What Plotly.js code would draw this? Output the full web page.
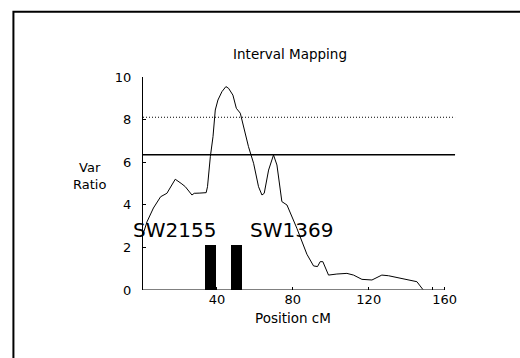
<!DOCTYPE html>
<html>
<head>
<meta charset="utf-8">
<script src="https://cdn.plot.ly/plotly-3.0.1.min.js"></script>
<style>html,body{margin:0;padding:0;background:#fff;}#chart{width:520px;height:358px;}</style>
</head>
<body>
<div id="chart"></div>
<script>
// Interval mapping curve (Position cM vs Var Ratio)
const positionCM = [1.5, 3.1, 6.5, 10.3, 13.6, 16, 18, 21.5, 23.3, 26.8, 28, 31, 34.3, 35, 36.5, 37.9, 39.1, 40.5, 42.6, 44.7, 46.1, 48.4, 50.2, 52.3, 54, 56.6, 59.3, 61.9, 63.7, 64.9, 67.2, 69.8, 71.6, 73.3, 74.2, 76.9, 82.1, 87.4, 90.9, 93, 94.4, 95.8, 97, 98.8, 103.2, 108.5, 112, 116.4, 121.7, 124.3, 126.9, 130.4, 134.8, 140.9, 145.4, 147.1, 148.5];
const varRatio   = [2.75, 3.2, 3.85, 4.38, 4.54, 4.9, 5.2, 4.98, 4.85, 4.46, 4.54, 4.55, 4.57, 4.85, 6.26, 7.2, 8.45, 8.92, 9.31, 9.55, 9.47, 9.15, 8.53, 8.3, 7.67, 6.73, 5.95, 4.85, 4.46, 4.54, 5.63, 6.34, 5.87, 4.85, 4.15, 3.99, 2.9, 1.68, 1.13, 1.1, 1.33, 1.33, 1.1, 0.7, 0.75, 0.78, 0.7, 0.5, 0.47, 0.6, 0.7, 0.67, 0.58, 0.47, 0.39, 0.19, 0.03];

// Marker bars
const markerPos    = [36.7, 50.35];
const markerHeight = [2.11, 2.11];
const markerWidth  = 5.8;

// Marker labels
const markerNames   = ["SW2155", "SW1369"];
const markerLabelX  = [17.5, 79.4];
const markerLabelY  = [2.82, 2.82];

// Threshold lines
const thresholdSolid  = 6.35;
const thresholdDotted = 8.11;
const thresholdEnd    = 165.5;

// Axis ticks
const xTickVals = [40, 80, 120, 153.6, 160];
const xTickText = ["40", "80", "120", "", "160"];
const yTickVals = [0, 2, 4, 6, 8, 10];
const xAxisEnd  = 160;

const FONT = "DejaVu Sans";

const traces = [
  {
    type: "bar",
    x: markerPos,
    y: markerHeight,
    width: markerWidth,
    marker: {color: "#000", line: {width: 0}},
    hoverinfo: "skip",
    showlegend: false
  },
  {
    type: "scatter",
    mode: "lines",
    x: positionCM,
    y: varRatio,
    line: {color: "#000", width: 1},
    showlegend: false
  }
];

const annotations = markerNames.map((t, i) => ({
  text: t, x: markerLabelX[i], y: markerLabelY[i], xref: "x", yref: "y",
  showarrow: false, xanchor: "center", yanchor: "middle",
  font: {family: FONT, size: 20, color: "#000"}
}));
annotations.push({
  text: "Position cM", x: 80.2, xref: "x", y: -0.13, yref: "paper",
  showarrow: false, xanchor: "center", yanchor: "middle",
  font: {family: FONT, size: 13.5, color: "#000"}
});
annotations.push({
  text: "Var<br>Ratio", x: -0.172, xref: "paper", y: 0.535, yref: "paper",
  showarrow: false, xanchor: "center", yanchor: "middle", align: "center",
  font: {family: FONT, size: 13, color: "#000"}
});

const layout = {
  width: 520, height: 358,
  margin: {l: 142.7, r: 64.1, t: 77, b: 68, pad: 0},
  paper_bgcolor: "#fff", plot_bgcolor: "rgba(0,0,0,0)",
  font: {family: FONT, color: "#000"},
  title: {
    text: "Interval Mapping", x: 0.4697, xref: "paper", xanchor: "center",
    y: 1 - 54 / 358, yref: "container", yanchor: "middle",
    font: {family: FONT, size: 13.5, color: "#000"}
  },
  showlegend: false,
  bargap: 0,
  xaxis: {
    range: [1, 166], showline: false, showgrid: false, zeroline: false,
    ticks: "inside", ticklen: 3, tickcolor: "#000", tickwidth: 1,
    tickvals: xTickVals, ticktext: xTickText,
    tickfont: {family: FONT, size: 13, color: "#000"}
  },
  yaxis: {
    range: [0, 10], showline: true, linecolor: "#000", linewidth: 1,
    showgrid: false, zeroline: false,
    ticks: "inside", ticklen: 3, tickcolor: "#000", tickwidth: 1,
    tickvals: yTickVals, ticklabelstandoff: 8,
    tickfont: {family: FONT, size: 13, color: "#000"}
  },
  shapes: [
    {type: "rect", xref: "paper", yref: "paper", x0: -0.414, x1: 1.25, y0: -0.4, y1: 1.3066,
     line: {color: "#000", width: 2}, fillcolor: "rgba(0,0,0,0)"},
    {type: "line", xref: "x", yref: "y", x0: 1, x1: xAxisEnd, y0: 0, y1: 0,
     line: {color: "#000", width: 1}},
    {type: "line", xref: "x", yref: "y", x0: 1, x1: thresholdEnd, y0: thresholdSolid, y1: thresholdSolid,
     line: {color: "#000", width: 1.3}},
    {type: "line", xref: "x", yref: "y", x0: 1, x1: thresholdEnd, y0: thresholdDotted, y1: thresholdDotted,
     line: {color: "#000", width: 1, dash: "1px,2px"}}
  ],
  annotations: annotations
};

Plotly.newPlot("chart", traces, layout, {displayModeBar: false, staticPlot: true});
</script>
</body>
</html>
